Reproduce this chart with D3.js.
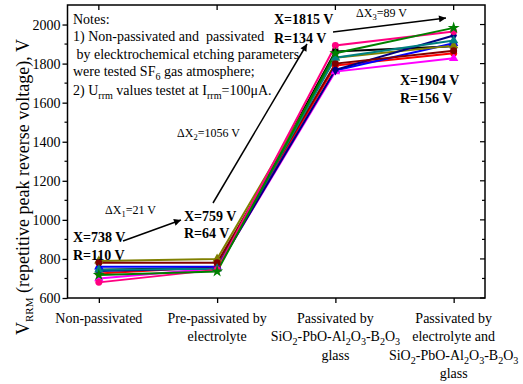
<!DOCTYPE html>
<html>
<head>
<meta charset="utf-8">
<script src="https://cdn.jsdelivr.net/npm/d3@7"></script>
<style>
  html, body { margin: 0; padding: 0; background: #fff; }
  svg { display: block; }
  svg text { font-family: "Liberation Serif", "Times New Roman", "DejaVu Serif", serif; }
</style>
</head>
<body>
<svg id="chart" width="523" height="384"></svg>
<script>
// Stages of passivation (x positions 1..4)
const stages = [1, 2, 3, 4];

// Reverse voltage (V) of each sample at every stage
const sampleBlack   = [745, 755, 1862, 1889];
const sampleRed     = [725, 760, 1790, 1853];
const sampleBlue    = [760, 760, 1765, 1904];
const sampleMagenta = [700, 752, 1759, 1827];
const sampleOlive   = [790, 800, 1830, 1892];
const sampleNavy    = [738, 752, 1768, 1944];
const sampleWine    = [781, 780, 1800, 1866];
const sampleTeal    = [745, 750, 1830, 1918];
const samplePink    = [680, 745, 1893, 1964];
const sampleGreen   = [718, 736, 1853, 1983];

const sampleValues = [sampleBlack, sampleRed, sampleBlue, sampleMagenta, sampleOlive,
                      sampleNavy, sampleWine, sampleTeal, samplePink, sampleGreen];
const sampleColors = ["#000000", "#ff0000", "#0000ff", "#ff00ff", "#808000",
                      "#000080", "#800000", "#008080", "#ff0080", "#008000"];
const sampleSymbols = [d3.symbolSquare, d3.symbolCircle, d3.symbolTriangle, d3.symbolTriangle,
                       d3.symbolTriangle, d3.symbolDiamond, d3.symbolCircle, d3.symbolTriangle,
                       d3.symbolCircle, d3.symbolStar];

const yTicks = [600, 800, 1000, 1200, 1400, 1600, 1800, 2000];
const yMinorTicks = d3.range(700, 2100, 200);

// Category labels; "_" marks subscript fragments
const stageLabels = [
  [["Non-passivated"]],
  [["Pre-passivated by"], ["electrolyte"]],
  [["Passivated by"], ["SiO", "_2", "-PbO-Al", "_2", "O", "_3", "-B", "_2", "O", "_3"], ["glass"]],
  [["Passivated by"], ["electrolyte and"], ["SiO", "_2", "-PbO-Al", "_2", "O", "_3", "-B", "_2", "O", "_3"], ["glass"]]
];

const FONT = "Liberation Serif, Times New Roman, DejaVu Serif, serif";
const svg = d3.select("#chart");
const plotLeft = 67.5, plotRight = 485, plotTop = 5, plotBottom = 298;

const x = d3.scaleLinear().domain([0.735, 4.265]).range([plotLeft, plotRight]);
const y = d3.scaleLinear().domain([600, 2100]).range([plotBottom, plotTop]);

// Writes a text made of plain / subscript fragments
function richText(sel, parts, size) {
  const shift = size * 0.28;
  let lowered = false;
  parts.forEach(p => {
    const sub = p.startsWith("_");
    const ts = sel.append("tspan")
      .attr("font-size", sub ? size * 0.72 : size)
      .text(sub ? p.slice(1) : p);
    if (sub && !lowered) { ts.attr("dy", shift); lowered = true; }
    else if (!sub && lowered) { ts.attr("dy", -shift); lowered = false; }
  });
}

// Lines and markers
const line = d3.line().x((d, i) => x(stages[i])).y(d => y(d));
sampleValues.forEach((vals, k) => {
  svg.append("path")
    .attr("d", line(vals))
    .attr("fill", "none")
    .attr("stroke", sampleColors[k])
    .attr("stroke-width", 2);
});
sampleValues.forEach((vals, k) => {
  svg.append("g").selectAll("path")
    .data(vals)
    .join("path")
    .attr("transform", (d, i) => `translate(${x(stages[i])},${y(d)})`)
    .attr("d", d3.symbol().type(sampleSymbols[k]).size(sampleSymbols[k] === d3.symbolStar ? 45 : 38))
    .attr("fill", sampleColors[k]);
});

// Frame and axes
svg.append("rect")
  .attr("x", plotLeft).attr("y", plotTop)
  .attr("width", plotRight - plotLeft).attr("height", plotBottom - plotTop)
  .attr("fill", "none").attr("stroke", "#000").attr("stroke-width", 1.5);

const yAxis = svg.append("g").attr("transform", `translate(${plotLeft},0)`)
  .call(d3.axisLeft(y).tickValues(yTicks).tickSize(5).tickPadding(2).tickFormat(d3.format("d")))
  .attr("font-family", FONT);
yAxis.select(".domain").remove();
yAxis.selectAll("line").attr("stroke-width", 1.3);
yAxis.selectAll("text").attr("font-size", 14).attr("fill", "#000");

svg.append("g").selectAll("line").data(yMinorTicks).join("line")
  .attr("x1", plotLeft - 3).attr("x2", plotLeft)
  .attr("y1", d => y(d)).attr("y2", d => y(d))
  .attr("stroke", "#000").attr("stroke-width", 1.2);

// Mirrored ticks on the right border
svg.append("g").selectAll("line").data(yTicks.concat(yMinorTicks)).join("line")
  .attr("x1", plotRight).attr("x2", d => plotRight - (yTicks.includes(d) ? 5 : 3))
  .attr("y1", d => y(d)).attr("y2", d => y(d))
  .attr("stroke", "#000").attr("stroke-width", 1.2);

const xAxis = svg.append("g").attr("transform", `translate(0,${plotBottom})`)
  .call(d3.axisBottom(x).tickValues(stages).tickSize(5).tickFormat(""));
xAxis.select(".domain").remove();
xAxis.selectAll("line").attr("stroke-width", 1.3);

// Inward ticks on the top border
svg.append("g").selectAll("line").data(stages).join("line")
  .attr("x1", d => x(d)).attr("x2", d => x(d))
  .attr("y1", plotTop).attr("y2", plotTop + 5)
  .attr("stroke", "#000").attr("stroke-width", 1.3);

// Category labels
stageLabels.forEach((lines, i) => {
  lines.forEach((parts, j) => {
    const t = svg.append("text")
      .attr("x", x(stages[i]))
      .attr("y", 323 + j * 18.3)
      .attr("text-anchor", "middle")
      .attr("font-family", FONT)
      .attr("fill", "#000");
    richText(t, parts, 14);
  });
});

// Y axis title
const yTitle = svg.append("text")
  .attr("transform", "translate(29,187) rotate(-90)")
  .attr("text-anchor", "middle")
  .attr("font-family", FONT)
  .attr("fill", "#000");
yTitle.append("tspan").attr("font-size", 18).text("V");
yTitle.append("tspan").attr("font-size", 11).attr("dy", 4).text("RRM");
yTitle.append("tspan").attr("font-size", 18).attr("dy", -4).text(" (repetitive peak reverse voltage), V");

// Notes
const notes = [
  ["Notes:"],
  ["1) Non-passivated and\u00a0 passivated"],
  ["\u00a0by elecktrochemical etching parameters"],
  ["were tested SF", "_6", " gas atmosphere;"],
  ["2) U", "_rrm", " values testet at I", "_rrm", "=100\u03bcA."]
];
const notesY = [24, 41, 59, 76, 95];
notes.forEach((parts, j) => {
  const t = svg.append("text")
    .attr("x", 73).attr("y", notesY[j])
    .attr("font-family", FONT)
    .attr("fill", "#000");
  richText(t, parts, 14);
});

// Statistics labels
const stats = [
  { x: 73,  y: 242, text: "X=738 V" }, { x: 73,  y: 260, text: "R=110 V" },
  { x: 184, y: 221, text: "X=759 V" }, { x: 184, y: 238, text: "R=64 V" },
  { x: 274, y: 24,  text: "X=1815 V" }, { x: 274, y: 43, text: "R=134 V" },
  { x: 400, y: 85,  text: "X=1904 V" }, { x: 400, y: 103, text: "R=156 V" }
];
svg.append("g").selectAll("text").data(stats).join("text")
  .attr("x", d => d.x).attr("y", d => d.y)
  .attr("font-size", 14).attr("font-weight", "bold")
  .attr("font-family", FONT)
  .attr("fill", "#000")
  .text(d => d.text);

// Differences between stage means
const deltas = [
  { x: 105, y: 214, n: "1", v: "=21 V" },
  { x: 177, y: 137, n: "2", v: "=1056 V" },
  { x: 356, y: 17,  n: "3", v: "=89 V" }
];
deltas.forEach(d => {
  const t = svg.append("text").attr("x", d.x).attr("y", d.y)
    .attr("font-family", FONT).attr("fill", "#000");
  t.append("tspan").attr("font-size", 12).text("\u0394X");
  t.append("tspan").attr("font-size", 8.5).attr("dy", 3).text(d.n);
  t.append("tspan").attr("font-size", 12).attr("dy", -3).text(d.v);
});

// Arrows
const defs = svg.append("defs");
defs.append("marker")
  .attr("id", "head")
  .attr("viewBox", "0 0 10 10")
  .attr("refX", 10).attr("refY", 5)
  .attr("markerWidth", 10).attr("markerHeight", 7)
  .attr("markerUnits", "userSpaceOnUse")
  .attr("orient", "auto")
  .append("path").attr("d", "M0,0 L10,5 L0,10 Z").attr("fill", "#000");

const arrows = [
  [123, 241, 181, 220],
  [213, 203, 307, 44],
  [333, 32, 446, 18]
];
svg.append("g").selectAll("line").data(arrows).join("line")
  .attr("x1", d => d[0]).attr("y1", d => d[1])
  .attr("x2", d => d[2]).attr("y2", d => d[3])
  .attr("stroke", "#000").attr("stroke-width", 1.5)
  .attr("marker-end", "url(#head)");
</script>
</body>
</html>
